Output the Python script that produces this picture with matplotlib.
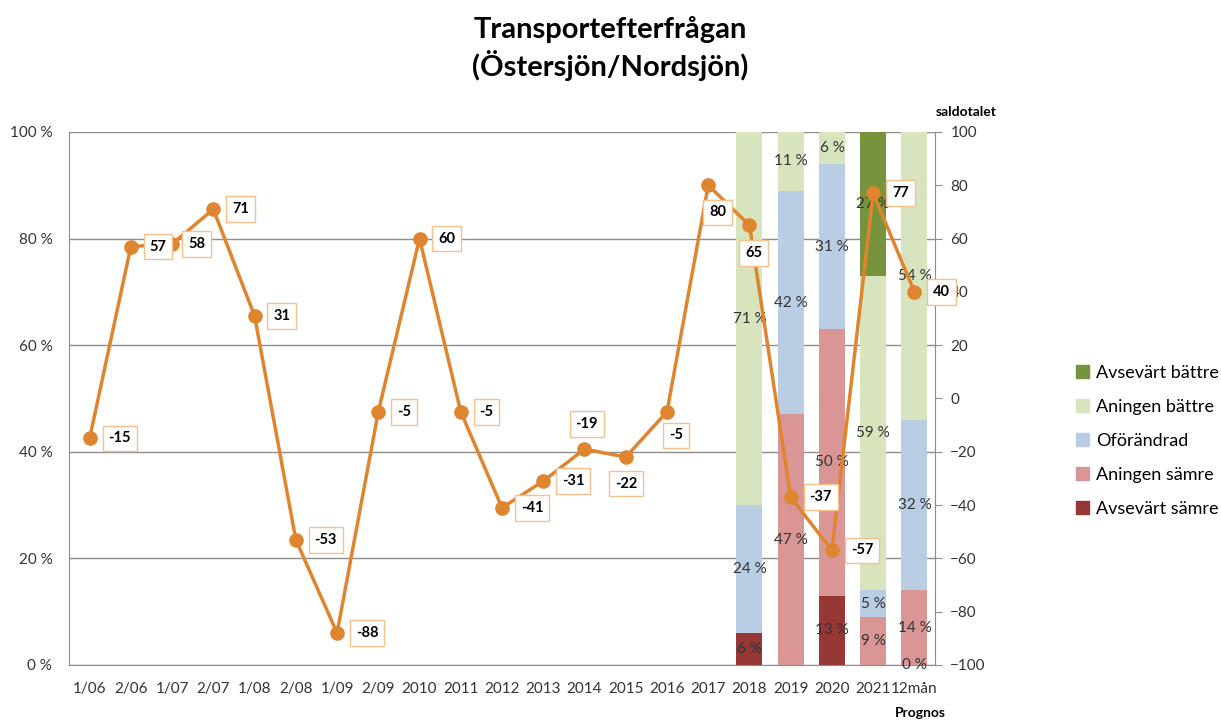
import matplotlib.pyplot as plt
import matplotlib.patches as patches
import numpy as np

plt.rcParams['font.family'] = ['Lato', 'DejaVu Sans']

# categories on the x axis
categories = ['1/06', '2/06', '1/07', '2/07', '1/08', '2/08', '1/09', '2/09',
              '2010', '2011', '2012', '2013', '2014', '2015', '2016', '2017',
              '2018', '2019', '2020', '2021', '12mån']

# saldotalet (right axis)
saldo = [-15, 57, 58, 71, 31, -53, -88, -5, 60, -5, -41, -31, -19, -22, -5,
         80, 65, -37, -57, 77, 40]

# stacked shares (%) for the last five categories, nan = no value
bar_cats = ['2018', '2019', '2020', '2021', '12mån']
avs_samre = [6, np.nan, 13, np.nan, 0]
an_samre = [np.nan, 47, 50, 9, 14]
oforandrad = [24, 42, 31, 5, 32]
an_battre = [71, 11, 6, 59, 54]
avs_battre = [np.nan, np.nan, np.nan, 27, np.nan]

series = [
    ('Avsevärt sämre', avs_samre, '#953735'),
    ('Aningen sämre', an_samre, '#D99694'),
    ('Oförändrad', oforandrad, '#B9CDE5'),
    ('Aningen bättre', an_battre, '#D7E4BD'),
    ('Avsevärt bättre', avs_battre, '#77933C'),
]

# label offsets (points) for the saldo labels
offsets = [(13.5, 0)] * len(saldo)
offsets[2] = (11.5, 0)
offsets[12] = (-6.5, 18)
offsets[13] = (-8, -19)
offsets[14] = (1.5, -17)
offsets[15] = (0.7, -19.5)
offsets[16] = (-3, -20)

fig = plt.figure(figsize=(12.21, 7.2), dpi=100)
ax = fig.add_axes([0.0565, 0.0764, 0.7093, 0.7403])

x = np.arange(len(categories))
bx = np.array([categories.index(c) for c in bar_cats])

bottom = np.zeros(len(bar_cats))
for name, vals, col in series:
    v = np.nan_to_num(np.array(vals, dtype=float))
    ax.bar(bx, v, bottom=bottom, width=0.63, color=col, zorder=2)
    for i, val in enumerate(vals):
        if np.isnan(val):
            continue
        top = min(bottom[i] + val, 100)
        yc = (bottom[i] + top) / 2
        ax.text(bx[i], yc, f'{int(val)} %', ha='center', va='center',
                fontsize=11, color='#333333', zorder=3)
    bottom += v

ax.set_xlim(-0.5, len(categories) - 0.5)
ax.set_ylim(0, 100)
ax.set_yticks(np.arange(0, 101, 20))
ax.set_yticklabels([f'{t} %' for t in range(0, 101, 20)])
ax.set_xticks(x)
ax.set_xticklabels(categories)
ax.tick_params(axis='both', length=0, labelsize=11, colors='#333333')
ax.tick_params(axis='x', pad=12)
ax.tick_params(axis='y', pad=12)
ax.yaxis.grid(True, color='#8c8c8c', linewidth=1, zorder=0)
ax.set_axisbelow(True)
for s in ['top', 'right']:
    ax.spines[s].set_visible(False)
for s in ['left', 'bottom']:
    ax.spines[s].set_color('#8c8c8c')

ax2 = ax.twinx()
ax2.set_ylim(-100, 100)
ax2.set_yticks(np.arange(-100, 101, 20))
ax2.tick_params(axis='y', length=5, labelsize=11, pad=6,
                colors='#8c8c8c', labelcolor='#333333')
for s in ['top', 'left', 'bottom']:
    ax2.spines[s].set_visible(False)
ax2.spines['right'].set_color('#8c8c8c')

ax2.plot(x, saldo, color='#E0852F', linewidth=2.5, marker='o',
         markersize=9.5, zorder=4)
for i, val in enumerate(saldo):
    ax2.annotate(str(val), (x[i], val), xytext=offsets[i],
                 textcoords='offset points', ha='left', va='center',
                 fontsize=10.5, fontweight='bold', color='black', zorder=5,
                 bbox=dict(boxstyle='square,pad=0.4', fc='white',
                           ec='#F9C08F', lw=1))

fig.text(0.5, 0.959, 'Transportefterfrågan', ha='center', va='center',
         fontsize=21, fontweight='bold')
fig.text(0.5, 0.909, '(Östersjön/Nordsjön)', ha='center', va='center',
         fontsize=21, fontweight='bold')
fig.text(0.766, 0.845, 'saldotalet', ha='left', va='center',
         fontsize=10, fontweight='bold')
fig.text(0.754, 0.01, 'Prognos', ha='center', va='center',
         fontsize=10, fontweight='bold')

handles = [patches.Patch(color=col, label=name) for name, _, col in series[::-1]]
fig.legend(handles=handles, loc='center left', bbox_to_anchor=(0.868, 0.388),
           frameon=False, fontsize=13, handlelength=0.7, handleheight=0.7,
           handletextpad=0.4, labelspacing=1.0)

plt.savefig('out.png', dpi=100)
plt.close()
